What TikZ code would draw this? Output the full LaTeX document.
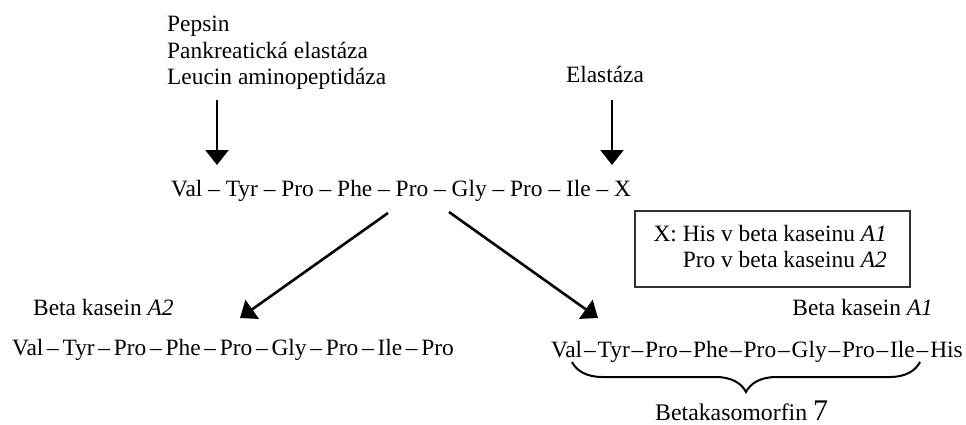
\documentclass[tikz,border=0pt]{standalone}
\usepackage{fontspec}
\setmainfont{Liberation Serif}
\usetikzlibrary{arrows.meta,decorations.pathreplacing}
\newcommand{\dd}{\hspace{.16em}--\hspace{.16em}}
\newcommand{\dn}{\hspace{.08em}--\hspace{.08em}}
\begin{document}
\begin{tikzpicture}[x=1pt,y=-1pt,
  txt/.style={inner sep=0pt,font=\fontsize{23.4}{26.5}\selectfont},
  arr/.style={line width=2.6pt,-{Triangle[length=15pt,width=23pt]}}]
\useasboundingbox (0,0) rectangle (966,425);
\node[txt,anchor=base west,align=left] (enz1) at (167,85) {Pepsin\\Pankreatická elastáza\\Leucin aminopeptidáza};
\node[txt,anchor=base] (enz2) at (605,83) {Elastáza};
\node[txt,anchor=base west] (seq) at (171,196) {Val -- Tyr -- Pro -- Phe -- Pro -- Gly -- Pro -- Ile -- X};
\coordinate (a1) at (217,100); \coordinate (a2) at (217,165);
\coordinate (b1) at (612,100); \coordinate (b2) at (612,165);
\draw[arr] (a1) -- (a2);
\draw[arr] (b1) -- (b2);
% vysvetlivka X
\node[draw=black!80,line width=1.6pt,minimum width=275,minimum height=76,anchor=north west,inner sep=0pt] (box) at (634,210) {};
\node[txt,anchor=base east] (xa) at (887,241) {X: His v beta kaseinu \textit{A1}};
\node[txt,anchor=base east] (xb) at (887,267) {Pro v beta kaseinu \textit{A2}};
% rozklad
\coordinate (c1) at (388,213); \coordinate (c2) at (240,318);
\coordinate (d1) at (449,212); \coordinate (d2) at (598,318);
\draw[arr] (c1) -- (c2);
\draw[arr] (d1) -- (d2);
\node[txt,anchor=base west] (lA2) at (33,315) {Beta kasein \textit{A2}};
\node[txt,anchor=base west] (sA2) at (12,355) {Val\dd Tyr\dd Pro\dd Phe\dd Pro\dd Gly\dd Pro\dd Ile\dd Pro};
\node[txt,anchor=base east] (lA1) at (933,315) {Beta kasein \textit{A1}};
\node[txt,anchor=base east] (sA1) at (963,357) {Val\dn Tyr\dn Pro\dn Phe\dn Pro\dn Gly\dn Pro\dn Ile\dn His};
\coordinate (e1) at (572,362); \coordinate (e2) at (920,362);
\draw[line width=2pt,decorate,decoration={brace,mirror,amplitude=30pt}] (e1) -- (e2);
\node[txt,font=\fontsize{23.8}{26}\selectfont,anchor=base west] (bkm) at (655,420) {Betakasomorfin {\fontsize{30}{32}\selectfont 7}};
\end{tikzpicture}
\end{document}
